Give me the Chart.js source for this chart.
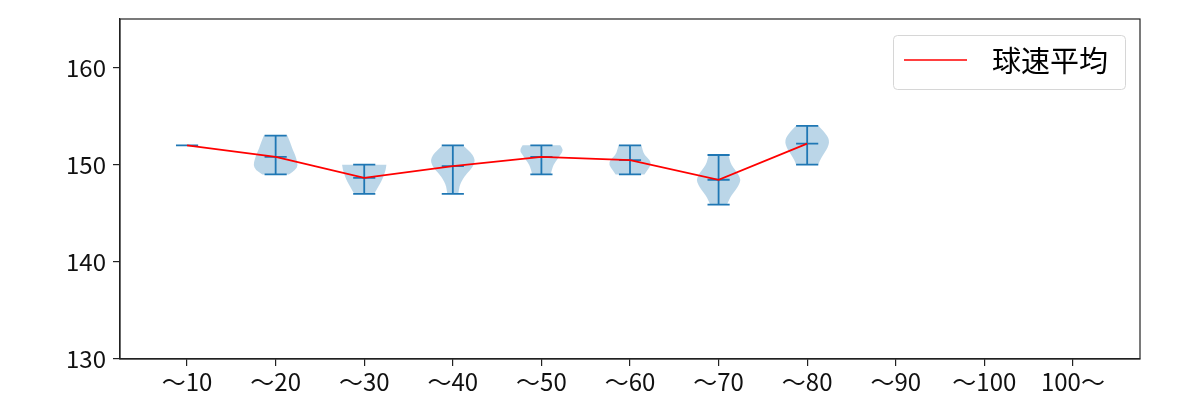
<!DOCTYPE html>
<html>
<head>
<meta charset="utf-8">
<script src="https://cdn.jsdelivr.net/npm/chart.js@4/dist/chart.umd.min.js"></script>
<style>
  html, body { margin: 0; padding: 0; background: #fff; }
  #wrap { width: 1200px; height: 400px; }
</style>
</head>
<body>
<div id="wrap"><canvas id="chart" width="1200" height="400"></canvas></div>
<script>
// --- data ---
const categories = ['～10', '～20', '～30', '～40', '～50', '～60', '～70', '～80', '～90', '～100', '100～'];
const yTicks = [130, 140, 150, 160];
const speedMean = [152.0, 150.8, 148.65, 149.86, 150.8, 150.48, 148.45, 152.17, null, null, null];
const speedMin  = [152.0, 149.0, 147.0, 147.0, 149.0, 149.0, 145.9, 150.0, null, null, null];
const speedMax  = [152.0, 153.0, 150.0, 152.0, 152.0, 152.0, 151.0, 154.0, null, null, null];
// relative violin width, sampled evenly from min (first) to max (last)
const violinShape = [
    [],
    [0.6, 0.92, 1.0, 0.95, 0.88, 0.78, 0.7, 0.62, 0.53],
    [0.45, 0.58, 0.7, 0.82, 0.9, 0.97, 1.0],
    [0.25, 0.28, 0.33, 0.45, 0.6, 0.8, 0.95, 1.0, 0.9, 0.7, 0.45],
    [0.42, 0.47, 0.55, 0.7, 0.85, 1.0, 0.85],
    [0.65, 0.8, 0.95, 0.9, 0.65, 0.57, 0.52],
    [0.38, 0.48, 0.6, 0.78, 0.92, 1.0, 0.9, 0.75, 0.58, 0.5, 0.45],
    [0.5, 0.58, 0.72, 0.86, 0.97, 1.0, 0.9, 0.72, 0.5],
    [], [], []
];

const FONT = "'Noto Sans CJK JP', 'Noto Sans', sans-serif";
const BLUE = '#1f77b4';

// smooth path through points (quadratic through midpoints)
function smoothThrough(ctx, pts, first) {
    if (first) ctx.moveTo(pts[0].x, pts[0].y); else ctx.lineTo(pts[0].x, pts[0].y);
    for (let k = 1; k < pts.length - 1; k++) {
        const mx = (pts[k].x + pts[k + 1].x) / 2, my = (pts[k].y + pts[k + 1].y) / 2;
        ctx.quadraticCurveTo(pts[k].x, pts[k].y, mx, my);
    }
    const last = pts[pts.length - 1];
    ctx.lineTo(last.x, last.y);
}

// violins (drawn under the mean line)
const violinPlugin = {
    id: 'violins',
    beforeDatasetsDraw(chart) {
        const { ctx, scales: { x, y }, chartArea } = chart;
        const unit = x.getPixelForValue(1) - x.getPixelForValue(0);
        ctx.save();
        ctx.beginPath();
        ctx.rect(chartArea.left, chartArea.top, chartArea.right - chartArea.left, chartArea.bottom - chartArea.top);
        ctx.clip();
        categories.forEach((c, i) => {
            if (speedMin[i] == null) return;
            const cx = x.getPixelForValue(i);
            const shape = violinShape[i];
            const lo = speedMin[i], hi = speedMax[i];
            if (shape.length > 1) {
                const n = shape.length;
                const right = shape.map((w, k) => ({
                    x: cx + w * 0.25 * unit,
                    y: y.getPixelForValue(lo + (hi - lo) * k / (n - 1))
                }));
                const left = right.map(p => ({ x: 2 * cx - p.x, y: p.y })).reverse();
                ctx.beginPath();
                smoothThrough(ctx, right, true);
                smoothThrough(ctx, left, false);
                ctx.closePath();
                ctx.fillStyle = 'rgba(31,119,180,0.3)';
                ctx.fill();
            }
            // stem + caps (min, max, mean)
            const cap = 0.125 * unit;
            ctx.strokeStyle = BLUE;
            ctx.lineWidth = 1.8;
            ctx.beginPath();
            ctx.moveTo(cx, y.getPixelForValue(lo));
            ctx.lineTo(cx, y.getPixelForValue(hi));
            [lo, hi, speedMean[i]].forEach(v => {
                const py = y.getPixelForValue(v);
                ctx.moveTo(cx - cap, py);
                ctx.lineTo(cx + cap, py);
            });
            ctx.stroke();
        });
        ctx.restore();
    }
};

// frame on all four sides + legend box
const framePlugin = {
    id: 'frame',
    afterDraw(chart) {
        const { ctx, chartArea: a } = chart;
        ctx.save();
        ctx.strokeStyle = '#222';
        ctx.lineWidth = 1.2;
        ctx.strokeRect(a.left, a.top, a.right - a.left, a.bottom - a.top);

        // legend, upper right
        const bx = 893.5, by = 35.5, bw = 232, bh = 54, r = 4;
        ctx.beginPath();
        ctx.moveTo(bx + r, by);
        ctx.arcTo(bx + bw, by, bx + bw, by + bh, r);
        ctx.arcTo(bx + bw, by + bh, bx, by + bh, r);
        ctx.arcTo(bx, by + bh, bx, by, r);
        ctx.arcTo(bx, by, bx + bw, by, r);
        ctx.closePath();
        ctx.fillStyle = 'rgba(255,255,255,0.8)';
        ctx.fill();
        ctx.strokeStyle = '#d6d6d6';
        ctx.lineWidth = 1;
        ctx.stroke();
        ctx.strokeStyle = '#ff0000';
        ctx.lineWidth = 1.7;
        ctx.beginPath();
        ctx.moveTo(904, 60);
        ctx.lineTo(967, 60);
        ctx.stroke();
        ctx.fillStyle = '#000';
        ctx.font = '29px ' + FONT;
        ctx.textBaseline = 'middle';
        ctx.fillText(chart.data.datasets[0].label, 992, 61);
        ctx.restore();
    }
};

new Chart(document.getElementById('chart'), {
    type: 'line',
    data: {
        datasets: [{
            label: '球速平均',
            data: speedMean.map((v, i) => ({ x: i, y: v })),
            borderColor: '#ff0000',
            borderWidth: 1.7,
            pointRadius: 0,
            fill: false,
            tension: 0,
            spanGaps: false
        }]
    },
    options: {
        responsive: false,
        animation: false,
        layout: { padding: { top: 19, right: 60, left: 0, bottom: 0 } },
        plugins: { legend: { display: false }, tooltip: { enabled: false } },
        scales: {
            x: {
                type: 'linear',
                min: -0.757,
                max: 10.757,
                afterBuildTicks: s => { s.ticks = categories.map((c, i) => ({ value: i })); },
                afterFit: s => { s.height = 41; s.paddingLeft = 0; s.paddingRight = 0; },
                ticks: {
                    callback: v => categories[v],
                    color: '#111',
                    font: { family: FONT, size: 24 },
                    padding: 1,
                    maxRotation: 0,
                    autoSkip: false
                },
                grid: { drawOnChartArea: false, color: '#222', tickLength: 7, lineWidth: 1.2 },
                border: { color: '#222', width: 1.2 }
            },
            y: {
                min: 130,
                max: 165,
                afterBuildTicks: s => { s.ticks = yTicks.map(v => ({ value: v })); },
                afterFit: s => { s.width = 120; s.paddingTop = 0; s.paddingBottom = 0; },
                ticks: {
                    color: '#111',
                    font: { family: FONT, size: 24 },
                    padding: 7
                },
                grid: { drawOnChartArea: false, color: '#222', tickLength: 7, lineWidth: 1.2 },
                border: { color: '#222', width: 1.2 }
            }
        }
    },
    plugins: [violinPlugin, framePlugin]
});
</script>
</body>
</html>
